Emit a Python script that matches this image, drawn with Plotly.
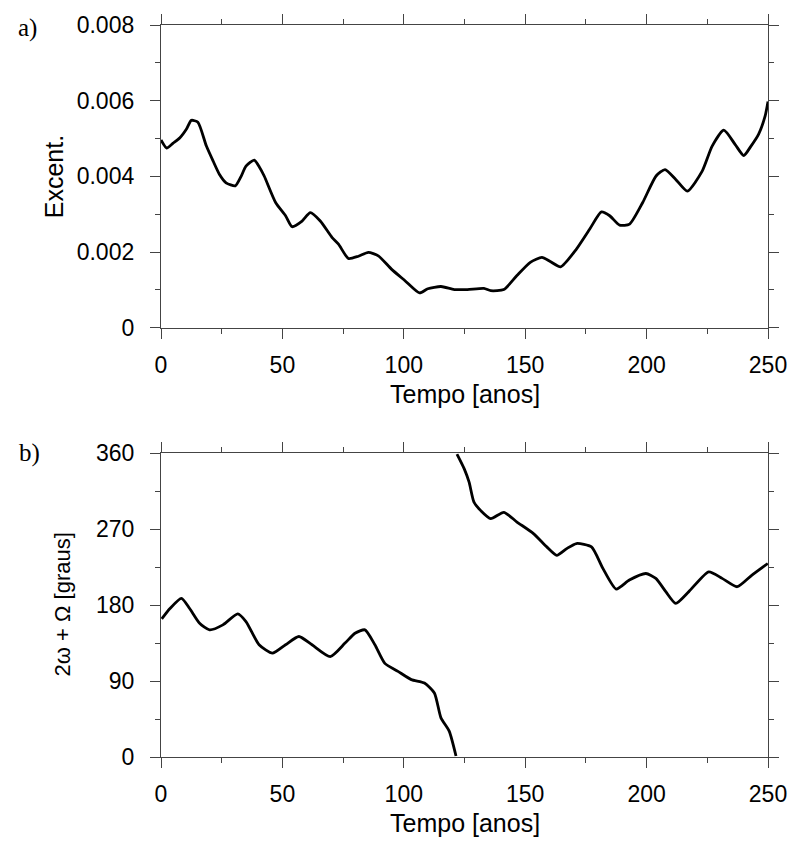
import plotly.graph_objects as go

# ---- data ----
t_ecc = [0, 2.3, 5.0, 7.8, 10.5, 12.5, 15.2, 18.7, 21.5, 24.1, 26.8, 30.6, 33.0, 35.0, 38.4,
         40.5, 42.5, 47.2, 51.3, 54.0, 58.1, 61.5, 65.6, 70.4, 73.1, 77.2, 81.3, 85.4, 89.5,
         94.9, 100.4, 106.5, 109.9, 115.3, 120.8, 126.2, 133.0, 135.8, 141.2, 146.6, 152.1,
         156.9, 160.3, 164.6, 171.1, 176.6, 181.4, 184.8, 188.9, 193.0, 198.4, 203.9, 207.6,
         212.0, 216.8, 222.9, 227.0, 231.8, 236.5, 240.0, 243.0, 246.1, 248.8, 250.0]
ecc = [0.00496, 0.00475, 0.00488, 0.00502, 0.00525, 0.00548, 0.00543, 0.00480, 0.00440,
       0.00405, 0.00383, 0.00375, 0.00400, 0.00427, 0.00443, 0.00425, 0.00401, 0.00331,
       0.00296, 0.00267, 0.00282, 0.00304, 0.00282, 0.00239, 0.00221, 0.00183, 0.00189,
       0.00199, 0.00190, 0.00155, 0.00125, 0.00092, 0.00103, 0.00109, 0.00101, 0.00101,
       0.00104, 0.00098, 0.00101, 0.00138, 0.00173, 0.00186, 0.00175, 0.00161, 0.00208,
       0.00261, 0.00306, 0.00296, 0.00271, 0.00274, 0.00331, 0.00401, 0.00418, 0.00392,
       0.00361, 0.00414, 0.00480, 0.00522, 0.00484, 0.00455, 0.00480, 0.00511, 0.00559,
       0.00598]

t_ang1 = [0.3, 3.7, 8.4, 11.8, 15.9, 20.0, 25.5, 31.6, 35.0, 40.4, 45.9, 51.3, 56.8, 62.2,
          69.7, 75.8, 79.9, 84.0, 88.1, 92.2, 97.6, 103.1, 108.5, 112.6, 115.3, 118.7, 121.5]
ang1 = [163.7, 176, 188, 176, 158.5, 150.7, 156.6, 169.6, 160.5, 133, 123, 133, 142.8, 133,
        119, 135, 146.7, 150.7, 133, 111, 101.5, 91.7, 87.7, 75.9, 46.4, 30.7, 1.2]

t_ang2 = [121.9, 124.9, 126.9, 128.9, 131.7, 135.8, 141.2, 146.6, 153.4, 158.9, 163.0, 167.1,
          171.1, 177.3, 182.0, 187.5, 192.9, 199.7, 203.8, 207.9, 212.0, 217.4, 225.6, 231.1,
          237.3, 243.4, 249.9]
ang2 = [359, 341.5, 325.7, 302, 292, 282.5, 290, 278.5, 264.8, 249, 239, 247, 253, 249,
        223.5, 199, 209.7, 217.5, 211.7, 196, 182, 196, 219.5, 211.7, 201.8, 215.6, 229.3]

x_ticks = [0, 50, 100, 150, 200, 250]
x_ticktext = ["0", "50", "100", "150", "200", "250"]
ecc_ticks = [0, 0.002, 0.004, 0.006, 0.008]
ecc_ticktext = ["0", "0.002", "0.004", "0.006", "0.008"]
ang_ticks = [0, 90, 180, 270, 360]
ang_ticktext = ["0", "90", "180", "270", "360"]

FONT = "Arial, Liberation Sans, sans-serif"
AX_COLOR = "#444444"
LINE = dict(color="black", width=2.8, shape="spline", smoothing=0.6)

fig = go.Figure()
fig.add_trace(go.Scatter(x=t_ecc, y=ecc, mode="lines", line=LINE, xaxis="x", yaxis="y",
                         showlegend=False))
fig.add_trace(go.Scatter(x=t_ang1, y=ang1, mode="lines", line=LINE, xaxis="x2", yaxis="y2",
                         showlegend=False))
fig.add_trace(go.Scatter(x=t_ang2, y=ang2, mode="lines", line=LINE, xaxis="x2", yaxis="y2",
                         showlegend=False))

W, H = 799, 841
L, R, T, B = 161, 26, 22, 84
ph = H - T - B
top_dom = [(757 - 326) / ph, 1.0]
bot_dom = [0.0, (757 - 452) / ph]

def xaxis(anchor):
    return dict(domain=[0, 1], anchor=anchor, range=[0, 250], tickvals=x_ticks,
                ticktext=x_ticktext, ticks="outside", ticklen=10, tickwidth=1.3,
                tickcolor=AX_COLOR, showline=True, linecolor=AX_COLOR, linewidth=1.3,
                mirror="ticks", showgrid=False, zeroline=False, ticklabelstandoff=6,
                tickfont=dict(family=FONT, size=23, color="black"),
                minor=dict(dtick=25, tick0=0, ticks="outside", ticklen=5, tickcolor=AX_COLOR,
                           tickwidth=1.3, showgrid=False))

def yaxis(anchor, dom, rng, vals, text, mdt):
    return dict(domain=dom, anchor=anchor, range=rng, tickvals=vals, ticktext=text,
                ticks="outside", ticklen=10, tickwidth=1.3, tickcolor=AX_COLOR,
                showline=True, linecolor=AX_COLOR, linewidth=1.3, mirror="ticks",
                showgrid=False, zeroline=False, ticklabelstandoff=11,
                tickfont=dict(family=FONT, size=23, color="black"),
                minor=dict(dtick=mdt, tick0=0, ticks="outside", ticklen=5, tickcolor=AX_COLOR,
                           tickwidth=1.3, showgrid=False))

fig.update_layout(
    width=W, height=H, margin=dict(l=L, r=R, t=T, b=B),
    paper_bgcolor="white", plot_bgcolor="white",
    xaxis=xaxis("y"),
    yaxis=yaxis("x", top_dom, [0, 0.008], ecc_ticks, ecc_ticktext, 0.001),
    xaxis2=xaxis("y2"),
    yaxis2=yaxis("x2", bot_dom, [0, 360], ang_ticks, ang_ticktext, 45),
)

def px_x(p):
    return (p - L) / (W - L - R)

def px_y(p):
    return (H - B - p) / ph

SERIF = "Liberation Serif, Times New Roman, serif"
ann = [
    dict(text="a)", x=px_x(26), y=px_y(25), font=dict(family=SERIF, size=25)),
    dict(text="b)", x=px_x(28), y=px_y(452), font=dict(family=SERIF, size=25)),
    dict(text="Tempo [anos]", x=px_x(467), y=px_y(393), font=dict(family=FONT, size=25)),
    dict(text="Tempo [anos]", x=px_x(467), y=px_y(823), font=dict(family=FONT, size=25)),
    dict(text="Excent.", x=px_x(53), y=px_y(174), textangle=-90, font=dict(family=FONT, size=25)),
    dict(text="2\u03c9 + \u03a9 [graus]", x=px_x(62), y=px_y(604), textangle=-90,
         font=dict(family=FONT, size=22)),
]
for a in ann:
    a.update(xref="paper", yref="paper", showarrow=False, xanchor="center", yanchor="middle")
    a["font"]["color"] = "black"
fig.update_layout(annotations=ann)

fig.write_html("out.html")
